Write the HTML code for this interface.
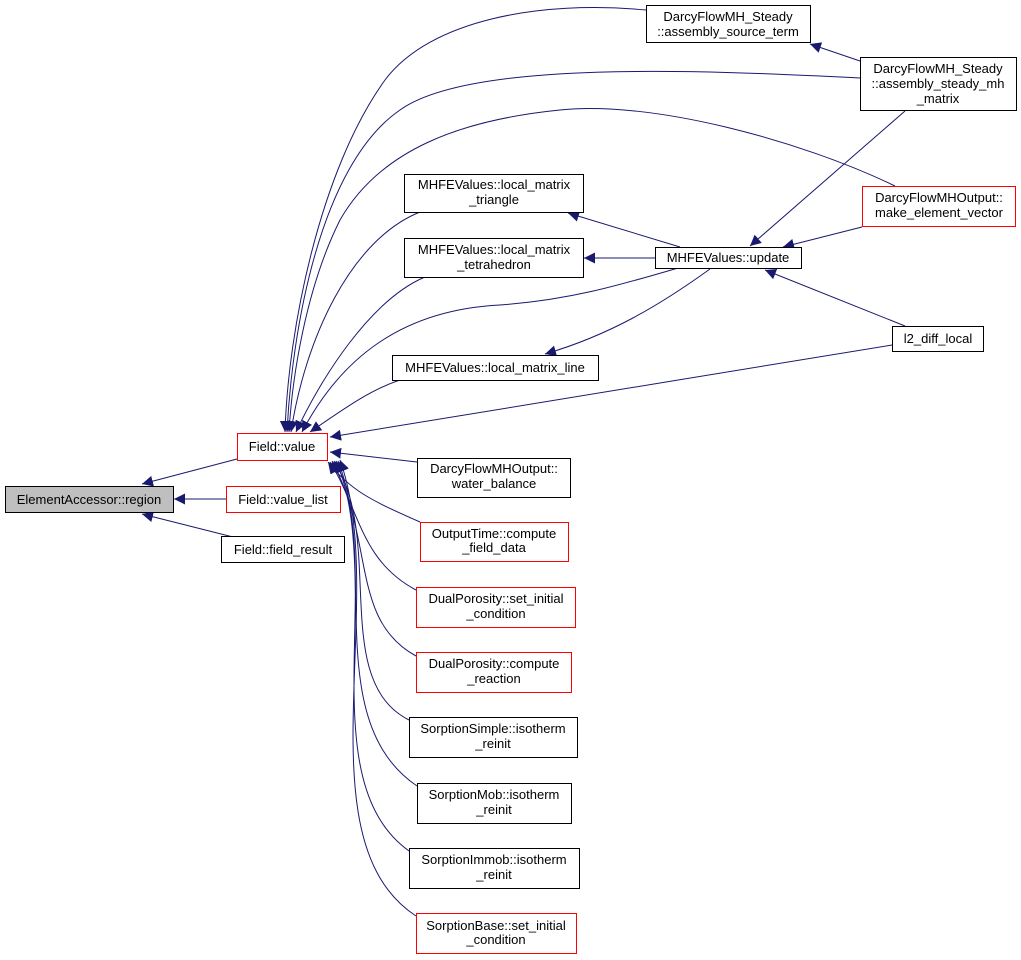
<!DOCTYPE html>
<html><head><meta charset="utf-8"><style>
html,body{margin:0;padding:0;background:#fff;}
svg{display:block;}
text{font-family:"Liberation Sans",sans-serif;font-size:13px;fill:#000;text-anchor:middle;}
.n{fill:#fff;stroke:#000;stroke-width:1;}
.r{fill:#fff;stroke:#f00;stroke-width:1;}
.e{fill:none;stroke:#191970;stroke-width:1;marker-end:url(#a);}
</style></head><body>
<svg width="1021" height="960" viewBox="0 0 1021 960">
<defs><marker id="a" viewBox="0 0 10 10" refX="10" refY="5" markerWidth="11" markerHeight="11" markerUnits="userSpaceOnUse" orient="auto"><path d="M0,0 L10,5 L0,10 z" fill="#191970"/></marker></defs>

<path class="e" d="M237,459 L142,484"/>
<path class="e" d="M226,499 L174,499"/>
<path class="e" d="M233,537 L142,514"/>

<path class="e" d="M646,10 C540,0 430,20 385,80 C320,170 288,330 285,432"/>
<path class="e" d="M860,78 C700,70 470,60 400,110 C320,165 292,330 287,432"/>
<path class="e" d="M895,186 C800,140 650,100 560,110 C460,120 380,150 340,220 C305,290 292,380 289,432"/>
<path class="e" d="M420,212 C350,240 305,340 291,432"/>
<path class="e" d="M425,277 C370,300 320,380 296,432"/>
<path class="e" d="M678,268 C620,285 570,300 500,305 C400,310 340,360 302,432"/>
<path class="e" d="M400,380 C370,390 345,408 310,432"/>
<path class="e" d="M892,345 L330,437"/>
<path class="e" d="M417,462 L330,452"/>
<path class="e" d="M420,522 C370,500 350,490 328,462"/>
<path class="e" d="M416,590 C360,560 360,510 330,462"/>
<path class="e" d="M416,656 C350,620 375,540 332,461"/>
<path class="e" d="M409,720 C330,680 385,540 334,461"/>
<path class="e" d="M417,786 C320,720 380,560 336,461"/>
<path class="e" d="M409,851 C310,780 385,580 338,461"/>
<path class="e" d="M416,916 C300,840 390,600 340,460"/>

<path class="e" d="M860,61 L810,44"/>
<path class="e" d="M905,111 L750,246"/>
<path class="e" d="M862,227 L783,247"/>
<path class="e" d="M905,326 L765,270"/>
<path class="e" d="M680,247 L568,213"/>
<path class="e" d="M655,258 L584,258"/>
<path class="e" d="M710,269 C660,305 610,335 545,354"/>

<rect x="5.5" y="486.5" width="168" height="26" fill="#bfbfbf" stroke="#000"/>
<text x="89" y="504">ElementAccessor::region</text>
<rect class="r" x="237.5" y="433.5" width="90" height="27"/><text x="282" y="451">Field::value</text>
<rect class="r" x="226.5" y="486.5" width="114" height="26"/><text x="283" y="504">Field::value_list</text>
<rect class="n" x="221.5" y="536.5" width="123" height="26"/><text x="283" y="554">Field::field_result</text>

<rect class="n" x="646.5" y="5.5" width="164" height="37"/><text x="728" y="21">DarcyFlowMH_Steady</text><text x="728" y="36">::assembly_source_term</text>
<rect class="n" x="860.5" y="57.5" width="156" height="53"/><text x="938" y="73">DarcyFlowMH_Steady</text><text x="938" y="88">::assembly_steady_mh</text><text x="938" y="103">_matrix</text>
<rect class="n" x="404.5" y="174.5" width="179" height="38"/><text x="494" y="189">MHFEValues::local_matrix</text><text x="494" y="204">_triangle</text>
<rect class="n" x="404.5" y="238.5" width="179" height="39"/><text x="494" y="254">MHFEValues::local_matrix</text><text x="494" y="269">_tetrahedron</text>
<rect class="n" x="655.5" y="247.5" width="146" height="21"/><text x="728" y="262">MHFEValues::update</text>
<rect class="r" x="862.5" y="186.5" width="153" height="40"/><text x="939" y="202">DarcyFlowMHOutput::</text><text x="939" y="217">make_element_vector</text>
<rect class="n" x="892.5" y="326.5" width="91" height="25"/><text x="938" y="343">l2_diff_local</text>
<rect class="n" x="392.5" y="355.5" width="206" height="25"/><text x="495" y="372">MHFEValues::local_matrix_line</text>

<rect class="n" x="417.5" y="458.5" width="153" height="39"/><text x="494" y="473">DarcyFlowMHOutput::</text><text x="494" y="488">water_balance</text>
<rect class="r" x="420.5" y="522.5" width="148" height="39"/><text x="494" y="538">OutputTime::compute</text><text x="494" y="552">_field_data</text>
<rect class="r" x="416.5" y="587.5" width="159" height="40"/><text x="496" y="603">DualPorosity::set_initial</text><text x="496" y="618">_condition</text>
<rect class="r" x="416.5" y="652.5" width="155" height="40"/><text x="494" y="668">DualPorosity::compute</text><text x="494" y="683">_reaction</text>
<rect class="n" x="409.5" y="717.5" width="168" height="40"/><text x="493" y="733">SorptionSimple::isotherm</text><text x="493" y="748">_reinit</text>
<rect class="n" x="417.5" y="783.5" width="154" height="40"/><text x="494" y="799">SorptionMob::isotherm</text><text x="494" y="814">_reinit</text>
<rect class="n" x="409.5" y="848.5" width="170" height="40"/><text x="494" y="864">SorptionImmob::isotherm</text><text x="494" y="879">_reinit</text>
<rect class="r" x="416.5" y="913.5" width="160" height="40"/><text x="496" y="930">SorptionBase::set_initial</text><text x="496" y="944">_condition</text>
</svg>
</body></html>
